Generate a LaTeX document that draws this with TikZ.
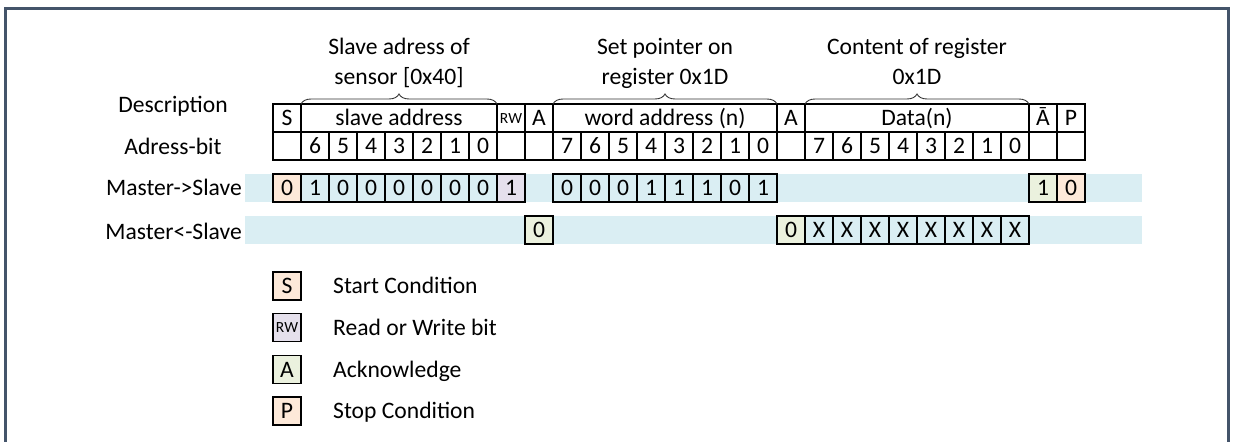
\documentclass[tikz,border=0pt]{standalone}
\usepackage{fontspec}
\setmainfont{Carlito}
\usetikzlibrary{positioning, decorations.pathreplacing}
\definecolor{framegray}{HTML}{44546A}
\definecolor{bandblue}{HTML}{DAEEF3}
\definecolor{startred}{HTML}{FDE9D9}
\definecolor{rwpurple}{HTML}{E5E0EC}
\definecolor{ackgreen}{HTML}{EBF1DE}

\begin{document}
\begin{tikzpicture}[
	x=1pt, y=-1pt,
	cell/.style={rectangle, draw, line width=1.2pt, inner sep=0pt, outer sep=0pt, minimum width=28pt, minimum height=28pt, text height=15.2pt, text depth=0pt, font=\fontsize{23.6pt}{30pt}\selectfont},
	wide/.style={cell, minimum width=#1},
	rwcell/.style={cell, text height=10pt, font=\fontsize{15.5pt}{18pt}\selectfont},
	bitcell/.style={cell, fill=bandblue},
	startcell/.style={cell, fill=startred},
	rwbit/.style={cell, fill=rwpurple},
	ackcell/.style={cell, fill=ackgreen},
	note/.style={inner sep=0pt, align=center, text depth=0pt, font=\fontsize{23.6pt}{30pt}\selectfont},
	rowlabel/.style={inner sep=0pt, font=\fontsize{23.6pt}{30pt}\selectfont},
	legtext/.style={inner sep=0pt, text height=15.2pt, text depth=0pt, font=\fontsize{23.6pt}{30pt}\selectfont},
	band/.style={fill=bandblue},
	brace/.style={decorate, decoration={brace, amplitude=10pt}, line width=0.9pt, draw=black!80},
	frame/.style={draw=framegray, line width=3pt}
]
\useasboundingbox (0,0) rectangle (1235,442);
\draw[frame] (5.5,442) -- (5.5,8.3) -- (1228.3,8.3) -- (1228.3,442);

\fill[band] (245,174) rectangle (1142,202);
\fill[band] (245,216) rectangle (1142,244);

\node[cell] (desc_s) at (287,118) {S};
\node[wide=196pt, right=0pt of desc_s] (desc_slave) {slave address};
\node[rwcell, right=0pt of desc_slave] (desc_rw) {RW};
\node[cell, right=0pt of desc_rw] (desc_a1) {A};
\node[wide=224pt, right=0pt of desc_a1] (desc_word) {word address (n)};
\node[cell, right=0pt of desc_word] (desc_a2) {A};
\node[wide=224pt, right=0pt of desc_a2] (desc_data) {Data(n)};
\node[cell, right=0pt of desc_data] (desc_nack) {Ā};
\node[cell, right=0pt of desc_nack] (desc_p) {P};

\foreach \t [count=\i from 0] in {{},6,5,4,3,2,1,0,{},{},7,6,5,4,3,2,1,0,{},7,6,5,4,3,2,1,0,{},{}}
	\node[cell] (bit_\i) at ({287+28*\i},146) {\t};

\node[startcell] (ms_start) at (287,188) {0};
\foreach \t [count=\i] in {1,0,0,0,0,0,0}
	\node[bitcell] (ms_addr_\i) at ({287+28*\i},188) {\t};
\node[rwbit] (ms_rw) at (511,188) {1};
\foreach \t [count=\i from 10] in {0,0,0,1,1,1,0,1}
	\node[bitcell] (ms_word_\i) at ({287+28*\i},188) {\t};
\node[ackcell] (ms_nack) at (1043,188) {1};
\node[startcell] (ms_stop) at (1071,188) {0};

\node[ackcell] (sm_ack1) at (539,230) {0};
\node[ackcell] (sm_ack2) at (791,230) {0};
\foreach \i in {19,...,26}
	\node[bitcell] (sm_data_\i) at ({287+28*\i},230) {X};

\draw[brace] (desc_slave.north west) -- (desc_slave.north east);
\draw[brace] (desc_word.north west) -- (desc_word.north east);
\draw[brace] (desc_data.north west) -- (desc_data.north east);
\node[note, above=19pt of desc_slave] (note_slave) {Slave adress of\\sensor [0x40]};
\node[note, above=19pt of desc_word] (note_word) {Set pointer on\\register 0x1D};
\node[note, above=19pt of desc_data] (note_data) {Content of register\\0x1D};

\node[rowlabel, anchor=base] (lbl_desc) at (173,112.6) {Description};
\node[rowlabel, anchor=base] (lbl_bit) at (173,154.6) {Adress-bit};
\node[rowlabel, anchor=base east] (lbl_ms) at (242,195.6) {Master->Slave};
\node[rowlabel, anchor=base east] (lbl_sm) at (242,239) {Master<-Slave};

\node[startcell] (leg_s) at (287,286) {S};
\node[rwcell, fill=rwpurple] (leg_rw) at (287,327.5) {RW};
\node[ackcell] (leg_a) at (287,369.5) {A};
\node[startcell] (leg_p) at (287,411) {P};
\node[legtext, right=32pt of leg_s] (leg_s_text) {Start Condition};
\node[legtext, right=32pt of leg_rw] (leg_rw_text) {Read or Write bit};
\node[legtext, right=32pt of leg_a] (leg_a_text) {Acknowledge};
\node[legtext, right=32pt of leg_p] (leg_p_text) {Stop Condition};
\end{tikzpicture}
\end{document}
